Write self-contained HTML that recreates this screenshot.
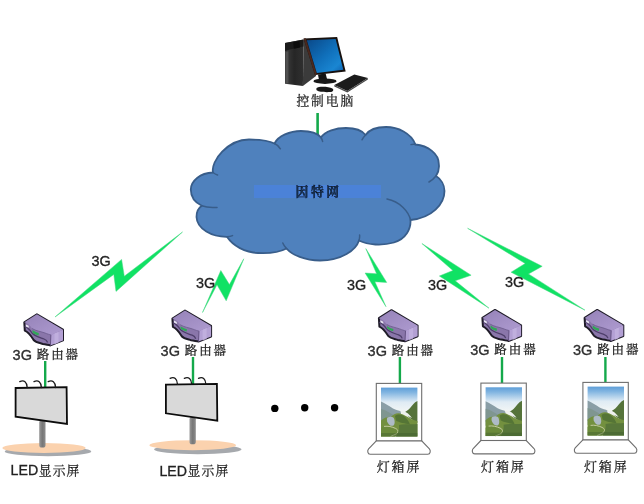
<!DOCTYPE html>
<html lang="zh-CN">
<head>
<meta charset="utf-8">
<title>3G 网络拓扑</title>
<style>
html,body{margin:0;padding:0;background:#fff;}
body{width:644px;height:504px;overflow:hidden;font-family:"Liberation Sans","Noto Serif CJK SC",sans-serif;}
svg{display:block;filter:blur(0.45px);}
.cn{font-family:"Liberation Serif","Noto Serif CJK SC",serif;font-weight:400;letter-spacing:1.9px;stroke:currentColor;stroke-width:0.25px;}
.en{font-family:"Liberation Sans","Noto Sans CJK SC",sans-serif;letter-spacing:0;font-weight:400;stroke:#222;stroke-width:0.3px;}
</style>
</head>
<body>
<svg width="644" height="504" viewBox="0 0 644 504">
<defs>
  <linearGradient id="gScreen" x1="0" y1="0" x2="1" y2="1">
    <stop offset="0" stop-color="#0a4888"/><stop offset="0.5" stop-color="#1070bb"/><stop offset="0.8" stop-color="#1a86d2"/><stop offset="1" stop-color="#0d5fae"/>
  </linearGradient>
  <linearGradient id="gTower" x1="0" y1="0" x2="1" y2="0">
    <stop offset="0" stop-color="#3e3e3e"/><stop offset="0.5" stop-color="#262626"/><stop offset="1" stop-color="#303030"/>
  </linearGradient>
  <linearGradient id="gSky" x1="0" y1="0" x2="0" y2="1">
    <stop offset="0" stop-color="#5e9ed8"/><stop offset="0.1" stop-color="#82b5e1"/><stop offset="0.3" stop-color="#dfebf4"/><stop offset="0.5" stop-color="#f3f6f5"/><stop offset="1" stop-color="#eef2ee"/>
  </linearGradient>
  <linearGradient id="gPole" x1="0" y1="0" x2="1" y2="0">
    <stop offset="0" stop-color="#9a9a9a"/><stop offset="0.5" stop-color="#777"/><stop offset="1" stop-color="#8c8c8c"/>
  </linearGradient>
  <linearGradient id="gRTop" x1="0" y1="0" x2="1" y2="1">
    <stop offset="0" stop-color="#9582b8"/><stop offset="1" stop-color="#ae9bd0"/>
  </linearGradient>

  <!-- router icon, origin = router 1 absolute coords -->
  <g id="router">
    <path d="M36.9,314.3 L24.3,322.3 L24.8,330.7 C29,332.5 31,336 33.6,340 C36,342.6 40,343 43,344 C46,344.6 48.5,345 50.4,345.4 L63,340.4 L63,329.7 Z" fill="#8a76aa" stroke="#1f1c28" stroke-width="2" stroke-linejoin="round"/>
    <path d="M36.9,314.3 L24.3,322.3 C28,323.5 30.5,325.5 32,328.5 C36,331 41,331.5 45,333 C47.5,334 49.5,334.6 50.9,334.9 L63,329.7 Z" fill="url(#gRTop)"/>
    <path d="M50.9,334.9 L63,329.7 L63,340.4 L50.4,345.4 Z" fill="#b3a0d4"/>
    <path d="M54.5,333.6 L58.5,331.9 L58.5,342.7 L54.5,344.3 Z" fill="#c3b3e0" opacity="0.8"/>
    <path d="M50.9,334.9 L50.4,345.4" fill="none" stroke="#5d4c7c" stroke-width="0.9"/>
    <path d="M24.6,326.4 C28,327.5 30,330 32,333 C35,336.5 40,337.5 44,339 C46,339.8 47,340.6 47.6,342.5" fill="none" stroke="#4e3f6b" stroke-width="1.3"/>
    <path d="M32,328.5 C36,331 41,331.5 45,333 C47.5,334 49.5,334.6 50.9,334.9" fill="none" stroke="#6b5a8c" stroke-width="0.8"/>
    <path d="M25.8,324.4 L28.6,325.8 L28.8,327.8 L25.9,326.4 Z" fill="#e9e6f2"/>
    <path d="M32.6,330 C34.5,331.6 36.5,332.4 38.8,333 L38.6,335.4 C36,334.8 34,333.8 32.4,332.4 Z" fill="#2fa857"/>
  </g>

  <!-- billboard, origin = billboard 1 absolute coords -->
  <g id="board">
    <rect x="39.2" y="420" width="6.3" height="27.6" rx="2.6" fill="url(#gPole)"/>
    <path d="M15.6,388 L66.6,387.2 L67,424 L15.6,416.6 Z" fill="#d9d9d9" stroke="#0c0c0c" stroke-width="1.8" stroke-linejoin="miter"/>
    <path d="M19.8,381.6 C24,379.5 27,382 27.2,387.5 M34,381.6 C38.2,379.5 41.2,382 41.4,387.5 M48.2,381.6 C52.4,379.5 55.4,382 55.6,387.5" fill="none" stroke="#1a1a1a" stroke-width="1.3" stroke-linecap="round"/>
  </g>

  <!-- light box, origin = light box 1 absolute coords -->
  <g id="lbox">
    <path d="M376.3,440.8 L368.6,448.8 C367.2,450.4 367.4,454.2 370.2,454.2 L427.8,454.2 C430.6,454.2 430.8,450.4 429.4,448.8 L421.7,440.8 Z" fill="#fff" stroke="#6e6e6e" stroke-width="1.1"/>
    <rect x="376.3" y="383.4" width="45.4" height="57.4" fill="#fff" stroke="#6e6e6e" stroke-width="1.1"/>
    <g>
      <rect x="381" y="387.6" width="36.4" height="48.8" fill="url(#gSky)"/>
      <path d="M381,401.5 C385,403 389,406 393,408.5 C396,410 399,410.5 401,411.5 L401,419 L381,422 Z" fill="#8a9ea6"/>
      <path d="M381,409 C386,410 390,413 394,415.5 L392,424 L381,426 Z" fill="#7f9690"/>
      <path d="M417.4,401 C414,402.5 412.5,405 410.5,407.5 C408.5,410 406,411 404.5,412.5 C406,415 409,417 411,419 L417.4,423 Z" fill="#55733a"/>
      <path d="M400,411.8 C403,410.8 406,411.8 408,413.6 C409.5,415 411,416.6 412,418 C409,416.4 406,415.4 403,414.6 Z" fill="#eef1ee"/>
      <path d="M381,420.5 C384,417.5 388,416.5 391,417 C393,414.5 397,412.5 400,413.5 C404,414.6 408,417 411,419 C413.5,420.2 415.5,420.6 417.4,421 L417.4,436.4 L381,436.4 Z" fill="#73903f"/>
      <path d="M387.5,417.4 C390.5,416 393.6,416.6 394.2,419 C394.8,421.4 395,424 393.5,425.6 C391,426.6 388.6,424.6 387.6,422.4 C386.8,420.6 386.6,418.6 387.5,417.4 Z" fill="#aebbc6"/>
      <path d="M395,416 C398,413.6 402,414.4 404.5,416.6 C407,418.8 409,421.6 410,424.6 C405,423.6 399,422.6 396,420.6 Z" fill="#557536"/>
      <path d="M381,428 C385,425.6 390,426.6 394,428.6 C397,430 398,432 396.5,434 L395,436.4 L381,436.4 Z" fill="#6b8a3b"/>
      <path d="M384,426.4 C388,425.8 392,426.8 395.5,428.4 C398.5,429.8 398.6,432 396.6,433.6 C394.6,435 392,435.6 390.6,436.4" fill="none" stroke="#cbd0a8" stroke-width="0.9"/>
      <path d="M399,425 C404,423.4 411,425 417.4,424 L417.4,436.4 L396,436.4 C398.4,433 399.4,429 399,425 Z" fill="#58773a"/>
      <rect x="381" y="433" width="36.4" height="3.4" fill="#3c5a2c" opacity="0.4"/>
    </g>
  </g>

  <g id="g3" class="en" font-size="14" fill="#222"><text x="0" y="0">3G</text></g>
</defs>

<rect width="644" height="504" fill="#fff"/>

<!-- ===== computer ===== -->
<g id="computer">
  <path d="M303.6,39.4 L313,42 L316,76 L302.9,86.1 Z" fill="#3b3b3b"/>
  <path d="M285,43 L303.6,39.4 L302.9,86.1 L285,83.7 Z" fill="url(#gTower)"/>
  <path d="M285,43 L303.6,39.4 L303.5,46.5 C298,47.5 291,49 285,51 Z" fill="#1a1a1a"/>
  <path d="M293.2,42.2 L299.6,41 L300,47.6 L293.8,48.8 Z" fill="#0c0c0c"/>
  <path d="M285.6,52 L288.4,51.2 L288.4,83.6 L285.6,83.2 Z" fill="#5a5a5a" opacity="0.7"/>
  <path d="M303.6,38.4 L337.1,37 L345.7,71.4 L315,75 Z" fill="#17110f"/>
  <path d="M303.6,38.4 L305.8,38.3 L317,74.7 L315,75 Z" fill="#4a281e"/>
  <path d="M306.8,40.2 L335.6,39 L343.3,69.8 L316.8,73 Z" fill="url(#gScreen)"/>
  <path d="M318,74.6 L325.6,73.6 L327.4,80.4 L319.2,81 Z" fill="#141414"/>
  <ellipse cx="325" cy="81.2" rx="11.6" ry="2.7" fill="#181818"/>
  <path d="M334.3,85.1 L354.3,74.4 L367.9,78 L347.3,91 Z" fill="#1b1b1b"/>
  <path d="M347.3,91 L367.9,78 L367.9,79.4 L347.3,92.4 L334.3,86.4 L334.3,85.1 Z" fill="#4a4a4a"/>
  <path d="M316.6,88 C318.4,86.2 328.6,86.4 332.4,88.4 C334.2,89.6 333.2,91.8 330,92.1 C325.4,92.6 318.6,91.8 317,90.6 C316.2,89.8 316.2,88.8 316.6,88 Z" fill="#181818"/>
</g>
<text class="cn" x="325.8" y="105" font-size="12.8" text-anchor="middle" fill="#444">控制电脑</text>

<!-- link computer -> cloud -->
<line x1="317.6" y1="113" x2="317.6" y2="137" stroke="#14a94b" stroke-width="2.6"/>

<!-- ===== cloud ===== -->
<path id="cloud" d="
M213,172.5
C210.5,161 228,139.5 249,139.5
C259,139.5 269,140.5 274.5,143.5
C278,136 290,131 301,131
C310,131 317.5,133 321,137.5
C325,131 336,128 346,128
C355,128 362.5,131 365.5,135
C369,130 377,127 386,127
C398,127 411,133 415.5,144.5
C428,145.5 439,154 438.8,164
C439.5,169 438,173 436,176
C441,179 444.5,185 444.5,191
C444.5,204 432,218 410.5,220
C411,229 406,239 394,242.5
C382,246 368,245 359,240.5
C356,250 342,260.5 320,260.5
C305,260.5 292,255 286.5,248.5
C280,252 268,253.5 258,253
C245,252.5 233,246 227,236.8
C212,237 197,229 196.5,217
C196.5,211.5 198.5,208 201.8,205.8
C195,202.5 190.8,197 190.8,189.5
C191,181 200,173 213,172.5 Z" fill="#4f81bd" stroke="#385d8a" stroke-width="1.8" stroke-linejoin="round"/>
<!-- inner overlap arcs -->
<path d="M213,172.5 C214.5,173.7 216,174.5 217.5,175 M274.5,143.5 C277,144.6 279,146.4 280.4,148.8 M321,137.5 C321.8,138.8 322.4,140 322.6,141.4 M365.5,135 C364,136.6 363,138 362,139.8 M415.5,144.5 C414,144.2 412.4,144.2 411,144.6 M436,176 C434,178.5 431.5,180.5 429,182 M410.5,220 C409,212 400,201.5 387,199 M359,240.5 C359.6,238.6 359.8,237 359.6,235 M286.5,248.5 C285,247 283.6,245 282.8,243 M227,236.8 C229,236.6 231,236.2 232.5,235.6 M201.8,205.8 C206,207.4 211,207.9 217,207.4" fill="none" stroke="#385d8a" stroke-width="1.5" stroke-linecap="round"/>
<rect x="254" y="185" width="127" height="13" fill="#4b82d8"/>
<text class="cn" x="318.6" y="196.2" font-size="12.8" text-anchor="middle" fill="#17304f" style="font-weight:700;letter-spacing:2.6px">因特网</text>

<!-- ===== lightning bolts ===== -->
<g fill="#10e264" stroke="#46d683" stroke-width="0.5" stroke-linejoin="miter">
  <path d="M55,317 L121.6,259.4 L124.3,276.2 L182.5,232 L116,291.4 L113.8,274.4 Z"/>
  <path d="M202.5,312.5 L220.8,270.5 L229.4,284.6 L243.8,258.8 L226.2,300.8 L217,284.8 Z"/>
  <path d="M365.8,248.6 L386.7,282.4 L374.9,281.7 L386,306.7 L365.1,273 L376.6,273.8 Z"/>
  <path d="M421.9,243.5 L471.1,275.2 L455.2,280.8 L489,308.2 L439.4,276 L452.9,270.5 Z"/>
  <path d="M467.6,228.3 L542.2,266.3 L528.5,273.9 L585,310.2 L511.1,272.2 L525.2,263.5 Z"/>
</g>

<!-- 3G labels -->
<g class="en" font-size="14.4" fill="#222">
  <text x="91.6" y="266">3G</text>
  <text x="196" y="287.5">3G</text>
  <text x="347" y="290">3G</text>
  <text x="428" y="290.3">3G</text>
  <text x="505" y="287.4">3G</text>
</g>

<!-- ===== routers ===== -->
<use href="#router"/>
<use href="#router" transform="translate(148.1,-3.8)"/>
<use href="#router" transform="translate(354.6,-4.1)"/>
<use href="#router" transform="translate(458.1,-4.4)"/>
<use href="#router" transform="translate(560.3,-4.4)"/>

<!-- router labels -->
<g font-size="14" fill="#333">
  <text x="12.6" y="359.8"><tspan class="en" font-size="14.5">3G</tspan><tspan class="cn" dx="4.8" dy="-0.9" font-size="12.5">路由器</tspan></text>
  <text x="160.6" y="355.8"><tspan class="en" font-size="14.5">3G</tspan><tspan class="cn" dx="4.8" dy="-0.9" font-size="12.5">路由器</tspan></text>
  <text x="367.6" y="355.6"><tspan class="en" font-size="14.5">3G</tspan><tspan class="cn" dx="4.8" dy="-0.9" font-size="12.5">路由器</tspan></text>
  <text x="470.2" y="354.8"><tspan class="en" font-size="14.5">3G</tspan><tspan class="cn" dx="4.8" dy="-0.9" font-size="12.5">路由器</tspan></text>
  <text x="573" y="354.8"><tspan class="en" font-size="14.5">3G</tspan><tspan class="cn" dx="4.8" dy="-0.9" font-size="12.5">路由器</tspan></text>
</g>

<!-- green drop lines -->
<g stroke="#14a94b" stroke-width="2.4">
  <line x1="45.2" y1="361" x2="45.2" y2="388"/>
  <line x1="193" y1="357" x2="193" y2="384"/>
  <line x1="399.9" y1="357" x2="399.9" y2="383.4"/>
  <line x1="502" y1="357" x2="502" y2="383"/>
  <line x1="605.4" y1="357" x2="605.4" y2="383"/>
</g>

<!-- ===== billboards ===== -->
<ellipse cx="48" cy="451.4" rx="43.3" ry="4.8" fill="#a6a9ad"/>
<ellipse cx="44" cy="448" rx="41.7" ry="4.9" fill="#fbd2ae"/>
<ellipse cx="197.8" cy="449.3" rx="43.8" ry="4.9" fill="#a6a9ad"/>
<ellipse cx="192.7" cy="445.2" rx="43.4" ry="5" fill="#fbd2ae"/>
<use href="#board"/>
<use href="#board" transform="translate(150.3,-3.3)"/>
<g font-size="14" fill="#222">
  <text x="10.6" y="475.4"><tspan class="en" font-size="14.2">LED</tspan><tspan class="cn" dx="0.6" dy="-0.9" font-size="12.8" fill="#3a3a3a" style="letter-spacing:1.1px">显示屏</tspan></text>
  <text x="159.4" y="475.8"><tspan class="en" font-size="14.2">LED</tspan><tspan class="cn" dx="0.6" dy="-0.9" font-size="12.8" fill="#3a3a3a" style="letter-spacing:1.1px">显示屏</tspan></text>
</g>

<!-- dots -->
<circle cx="274.8" cy="408.4" r="3.7" fill="#000"/>
<circle cx="304.7" cy="407.8" r="3.7" fill="#000"/>
<circle cx="334.6" cy="407.8" r="3.7" fill="#000"/>

<!-- ===== light boxes ===== -->
<use href="#lbox"/>
<use href="#lbox" transform="translate(104.6,-0.3)"/>
<use href="#lbox" transform="translate(206.6,-1)"/>
<g class="cn" font-size="13" fill="#3a3a3a" text-anchor="middle">
  <text x="399" y="471.4">灯箱屏</text>
  <text x="503.4" y="471.4">灯箱屏</text>
  <text x="606.3" y="470.6">灯箱屏</text>
</g>
</svg>
</body>
</html>
